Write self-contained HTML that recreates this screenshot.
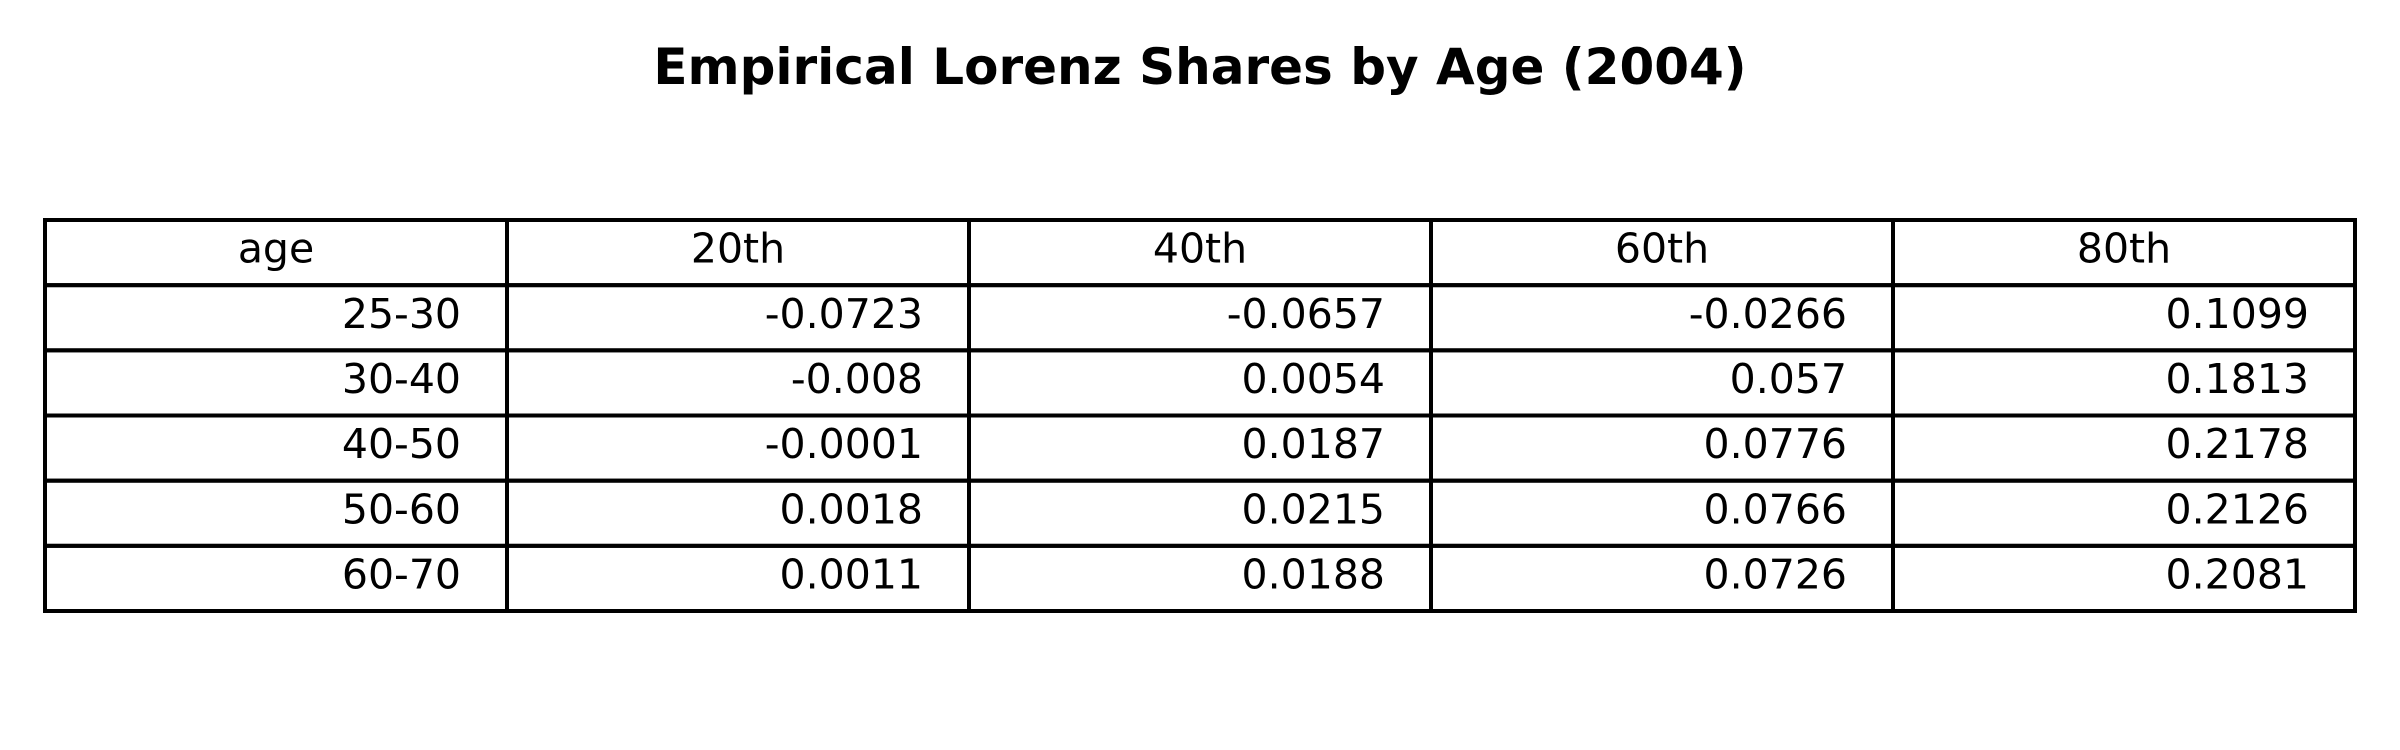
<!DOCTYPE html>
<html><head><meta charset="utf-8"><style>
html,body{margin:0;padding:0;background:#fff;}
svg{display:block;}
text{font-family:"DejaVu Sans","Liberation Sans",sans-serif;fill:#000;}
</style></head><body>
<svg id="chart" width="2400" height="750" viewBox="0 0 2400 750" xmlns="http://www.w3.org/2000/svg">
<text x="1200" y="84" text-anchor="middle" font-size="50" font-weight="bold">Empirical Lorenz Shares by Age (2004)</text>
<g id="tbl"></g>
</svg>
<script>
const headers = ["age","20th","40th","60th","80th"];
const ages = ["25-30","30-40","40-50","50-60","60-70"];
const p20 = ["-0.0723","-0.008","-0.0001","0.0018","0.0011"];
const p40 = ["-0.0657","0.0054","0.0187","0.0215","0.0188"];
const p60 = ["-0.0266","0.057","0.0776","0.0766","0.0726"];
const p80 = ["0.1099","0.1813","0.2178","0.2126","0.2081"];

const NS = "http://www.w3.org/2000/svg";
const tblG = document.getElementById('tbl');
const tLeft = 45, tTop = 220, tRight = 2355, tBottom = 611;
const cols = [ages, p20, p40, p60, p80];
const nRows = ages.length + 1;
const cw = (tRight - tLeft) / headers.length;
const rh = (tBottom - tTop) / nRows;
function cell(r, c, txt, header) {
  const x = tLeft + c * cw, y = tTop + r * rh;
  const rect = document.createElementNS(NS, 'rect');
  
  
  rect.setAttribute('x', x); rect.setAttribute('y', y);
  rect.setAttribute('width', cw); rect.setAttribute('height', rh);
  rect.setAttribute('fill', 'none'); rect.setAttribute('stroke', '#000'); rect.setAttribute('stroke-width', '4');
  tblG.appendChild(rect);
  const t = document.createElementNS(NS, 'text');
  
  
  t.setAttribute('font-size', '41');
  t.setAttribute('y', y + rh / 2 + 10);
  if (header) { t.setAttribute('x', x + cw / 2); t.setAttribute('text-anchor', 'middle'); }
  else { t.setAttribute('x', x + cw - 46); t.setAttribute('text-anchor', 'end'); }
  t.textContent = txt;
  tblG.appendChild(t);
}
headers.forEach((h, c) => cell(0, c, h, true));
for (let r = 0; r < ages.length; r++) cols.forEach((col, c) => cell(r + 1, c, col[r], false));
</script>
</body></html>
